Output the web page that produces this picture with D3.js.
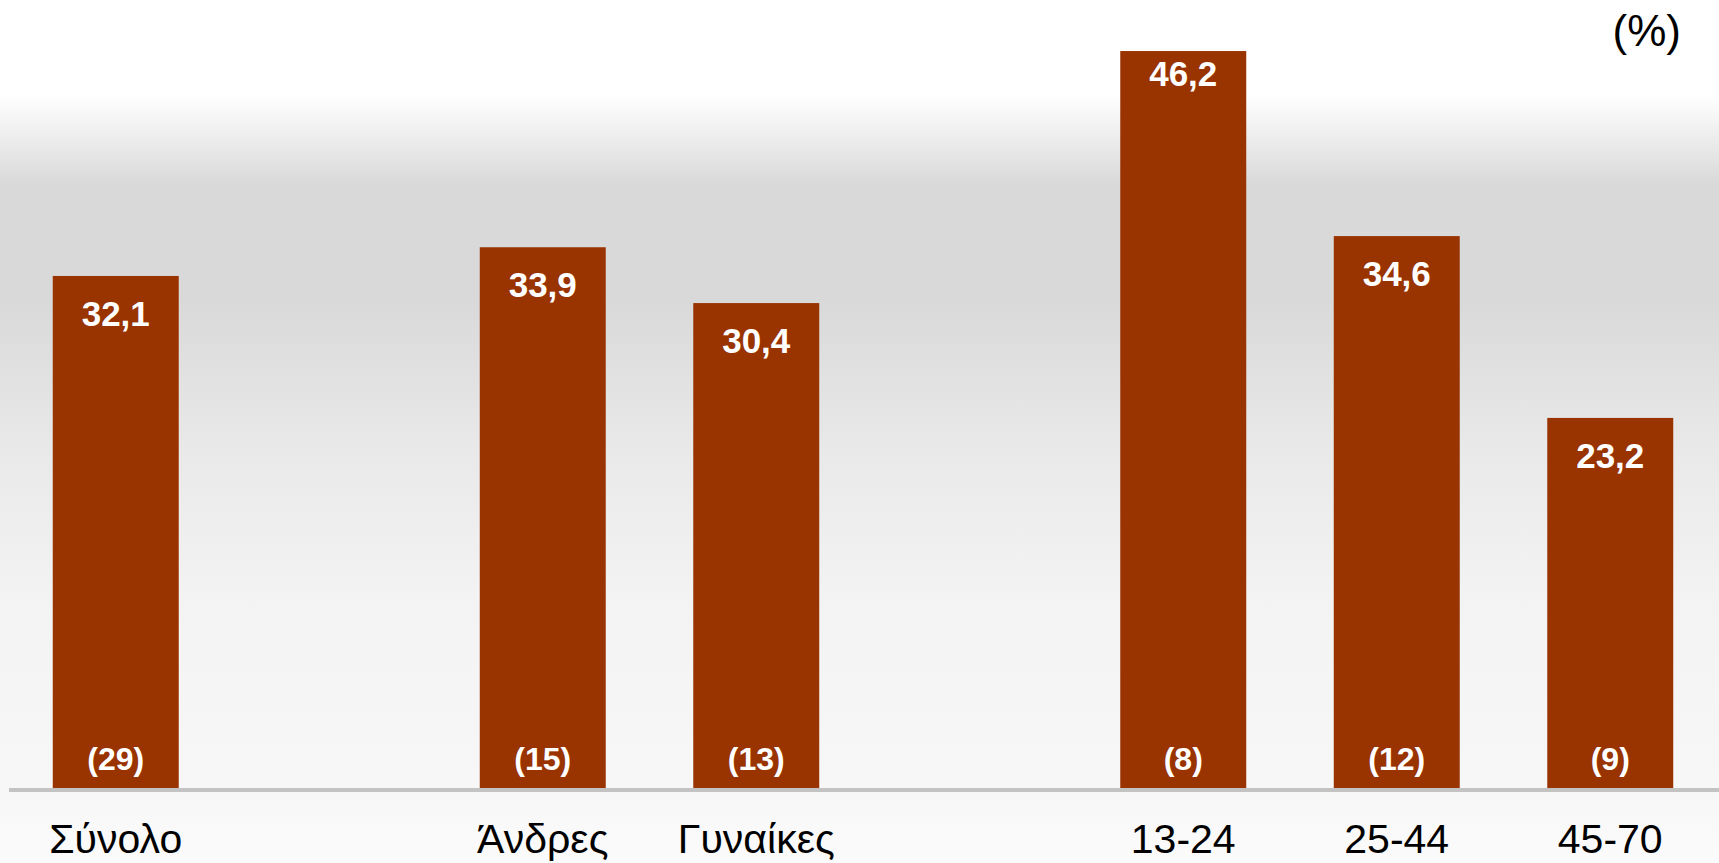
<!DOCTYPE html>
<html>
<head>
<meta charset="utf-8">
<script src="https://cdn.jsdelivr.net/npm/d3@7"></script>
<style>
  html, body { margin: 0; padding: 0; background: #fff; }
  text { font-family: "Liberation Sans", Arial, sans-serif; }
</style>
</head>
<body>
<div id="chart"></div>
<script>
// slots include two empty gaps between the groups
var slots = ['Σύνολο', 'gap1', 'Άνδρες', 'Γυναίκες', 'gap2', '13-24', '25-44', '45-70'];
var categories = ['Σύνολο', 'Άνδρες', 'Γυναίκες', '13-24', '25-44', '45-70'];
var values = [32.1, 33.9, 30.4, 46.2, 34.6, 23.2];
var counts = ['(29)', '(15)', '(13)', '(8)', '(12)', '(9)'];
var valueLabels = ['32,1', '33,9', '30,4', '46,2', '34,6', '23,2'];

const WIDTH = 1719;
const HEIGHT = 863;
const BASE = 788;

var data = categories.map(function(c, i){
  return {cat: c, value: values[i], count: counts[i], label: valueLabels[i]};
});

var xScale = d3.scaleBand()
  .domain(slots)
  .range([9, 1717])
  .paddingInner(0.41)
  .paddingOuter(0.205);

var yScale = d3.scaleLinear()
  .domain([0, 49.4])
  .range([BASE, 0]);

var svg = d3.select('#chart').append('svg')
  .attr('width', WIDTH)
  .attr('height', HEIGHT);

// background gradient
var grad = svg.append('defs').append('linearGradient')
  .attr('id', 'bg')
  .attr('gradientUnits', 'userSpaceOnUse')
  .attr('x1', 0).attr('y1', 0).attr('x2', 0).attr('y2', HEIGHT);
[[0, '#ffffff'], [95, '#ffffff'], [185, '#d9d9d9'], [300, '#d9d9d9'],
 [450, '#e9e9e9'], [600, '#f3f3f3'], [788, '#f7f7f7'], [863, '#fbfbfb']]
  .forEach(function(s){
    grad.append('stop').attr('offset', s[0] / HEIGHT).attr('stop-color', s[1]);
  });

svg.append('rect')
  .attr('width', WIDTH)
  .attr('height', HEIGHT)
  .attr('fill', 'url(#bg)');

var g = svg.append('g');

g.selectAll('rect.bar')
  .data(data)
  .enter().append('rect')
  .attr('class', 'bar')
  .attr('x', function(d){ return xScale(d.cat); })
  .attr('y', function(d){ return yScale(d.value); })
  .attr('width', xScale.bandwidth())
  .attr('height', function(d){ return BASE - yScale(d.value); })
  .attr('fill', '#993300');

// baseline
svg.append('line')
  .attr('x1', 9).attr('x2', WIDTH)
  .attr('y1', BASE + 2).attr('y2', BASE + 2)
  .attr('stroke', '#c3c3c3')
  .attr('stroke-width', 4);

// value labels inside top of bars
g.selectAll('text.val')
  .data(data)
  .enter().append('text')
  .attr('class', 'val')
  .attr('x', function(d){ return xScale(d.cat) + xScale.bandwidth() / 2; })
  .attr('y', function(d){
    var top = yScale(d.value);
    return top < 100 ? top + 35 : top + 50;
  })
  .attr('text-anchor', 'middle')
  .attr('font-size', 35)
  .attr('font-weight', 'bold')
  .attr('fill', '#fff')
  .text(function(d){ return d.label; });

// counts at bottom of bars
g.selectAll('text.cnt')
  .data(data)
  .enter().append('text')
  .attr('class', 'cnt')
  .attr('x', function(d){ return xScale(d.cat) + xScale.bandwidth() / 2; })
  .attr('y', BASE - 18)
  .attr('text-anchor', 'middle')
  .attr('font-size', 32)
  .attr('font-weight', 'bold')
  .attr('fill', '#fff')
  .text(function(d){ return d.count; });

// category labels
g.selectAll('text.cat')
  .data(data)
  .enter().append('text')
  .attr('class', 'cat')
  .attr('x', function(d){ return xScale(d.cat) + xScale.bandwidth() / 2; })
  .attr('y', 853)
  .attr('text-anchor', 'middle')
  .attr('font-size', 41)
  .attr('fill', '#000')
  .text(function(d){ return d.cat; });

svg.append('text')
  .attr('x', 1681)
  .attr('y', 46)
  .attr('text-anchor', 'end')
  .attr('font-size', 44)
  .attr('fill', '#000')
  .text('(%)');
</script>
</body>
</html>
